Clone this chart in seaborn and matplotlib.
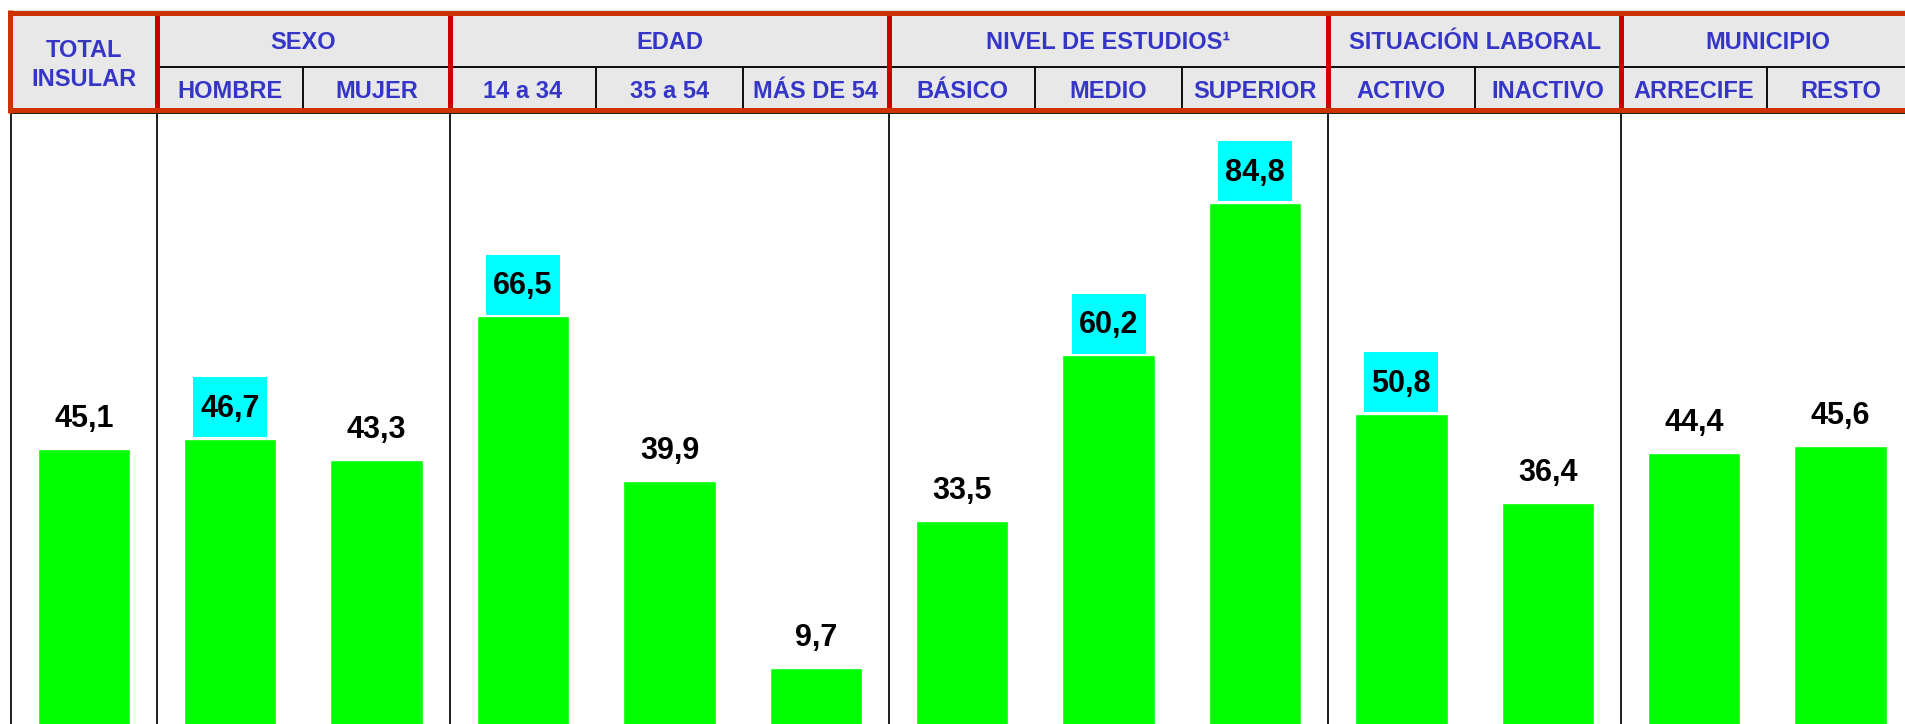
import matplotlib.pyplot as plt
import seaborn as sns
from matplotlib.patches import Rectangle

# ==============================================================================
#                      1. Datos
# ==============================================================================
categories = ["TOTAL\nINSULAR", "HOMBRE", "MUJER", "14 a 34", "35 a 54", "MÁS DE 54",
              "BÁSICO", "MEDIO", "SUPERIOR", "ACTIVO", "INACTIVO", "ARRECIFE", "RESTO"]
values = [45.1, 46.7, 43.3, 66.5, 39.9, 9.7, 33.5, 60.2, 84.8, 50.8, 36.4, 44.4, 45.6]
highlight = [False, True, False, True, False, False, False, True, True, True, False, False, False]

group_names = ["SEXO", "EDAD", "NIVEL DE ESTUDIOS¹", "SITUACIÓN LABORAL", "MUNICIPIO"]
group_sizes = [2, 3, 3, 2, 2]

sns.set_theme(style="white")
plt.rcParams['font.family'] = ['Liberation Sans', 'DejaVu Sans']

# ==============================================================================
#                      2. Geometria (pixeles de la figura)
# ==============================================================================
W, H = 1906, 724
x0 = 10.6          # borde izquierdo de la primera columna
col_w = 146.4      # ancho de cada columna
header_top, header_bot = 10, 113
base_y = 728       # linea base de las barras (un poco por debajo de la imagen)
px_per_unit = 6.19
ymax = (base_y - header_bot) / px_per_unit
n = len(categories)

fig = plt.figure(figsize=(W / 100, H / 100), dpi=100)

blue = "#3535C8"
red_outer = "#CC3300"
red_inner = "#CC0000"
lw5 = 5 * 72 / 100
lw2 = 2 * 72 / 100

# ==============================================================================
#                      3. Barras
# ==============================================================================
ax = fig.add_axes([x0 / W, (H - base_y) / H, n * col_w / W, (base_y - header_bot) / H])
sns.barplot(x=categories, y=values, order=categories, color="#00FF00", saturation=1,
            width=0.63, ax=ax)
ax.set_xlim(-0.5, n - 0.5)
ax.set_ylim(0, ymax)
ax.set_axis_off()

# lineas verticales entre grupos
bounds = [-0.5, 0.5]
for s in group_sizes:
    bounds.append(bounds[-1] + s)
for b in bounds:
    ax.axvline(b, color="#222222", lw=lw2, clip_on=False)
ax.axhline(ymax, color="#222222", lw=lw2, clip_on=False)

# etiquetas de valor
box_h = 60 / px_per_unit
box_w = 74 / col_w
text_off = 22 / px_per_unit
for bar, v, hl in zip(ax.containers[0], values, highlight):
    cx = bar.get_x() + bar.get_width() / 2
    top = bar.get_height()
    if hl:
        ax.add_patch(Rectangle((cx - box_w / 2, top + 0.3), box_w, box_h,
                               facecolor="#00FFFF", edgecolor="none", zorder=3))
    ax.text(cx, top + text_off, f"{v:.1f}".replace(".", ","), ha="center", va="baseline",
            fontsize=22, fontweight="bold", color="black", zorder=4)

# ==============================================================================
#                      4. Cabecera
# ==============================================================================
hh = header_bot - header_top
hax = fig.add_axes([x0 / W, (H - header_bot) / H, n * col_w / W, hh / H])
hax.set_xlim(-0.5, n - 0.5)
hax.set_ylim(0, hh)
hax.set_axis_off()


def py(y_px):
    # pixel de la figura -> coordenada y de la cabecera
    return header_bot - y_px


hax.add_patch(Rectangle((-0.5, 0), n, hh, facecolor="#E8E8E8", edgecolor="none"))
row_line = py(67)
# separadores de subcolumnas (solo segunda fila)
start = 0.5
for s in group_sizes:
    for k in range(1, s):
        hax.plot([start + k, start + k], [py(110), row_line], color="#111111", lw=lw2)
    start += s
hax.plot([0.5, n - 0.5], [row_line, row_line], color="#111111", lw=lw2)
# separadores de grupo en rojo
for b in bounds[1:-1]:
    hax.plot([b, b], [py(110), py(13)], color=red_inner, lw=lw5, solid_capstyle="butt")
# borde exterior
hax.plot([-0.5, n - 0.5], [py(12.5), py(12.5)], color=red_outer, lw=lw5, clip_on=False)
hax.plot([-0.5, n - 0.5], [py(110), py(110)], color=red_outer, lw=lw5, clip_on=False)
left_x = -0.5 + (10.5 - x0) / col_w
hax.plot([left_x, left_x], [py(10), py(112.5)], color=red_outer, lw=lw5, clip_on=False,
         solid_capstyle="butt")

# textos
hax.text(0, py(65), categories[0], ha="center", va="center", fontsize=17,
         fontweight="bold", color=blue, linespacing=1.36)
start = 1
for name, s in zip(group_names, group_sizes):
    hax.text(start + (s - 1) / 2, py(49), name, ha="center", va="baseline", fontsize=17,
             fontweight="bold", color=blue)
    start += s
for i, c in enumerate(categories[1:], start=1):
    hax.text(i, py(98), c, ha="center", va="baseline", fontsize=17,
             fontweight="bold", color=blue)

fig.savefig("out.png", dpi=100)
